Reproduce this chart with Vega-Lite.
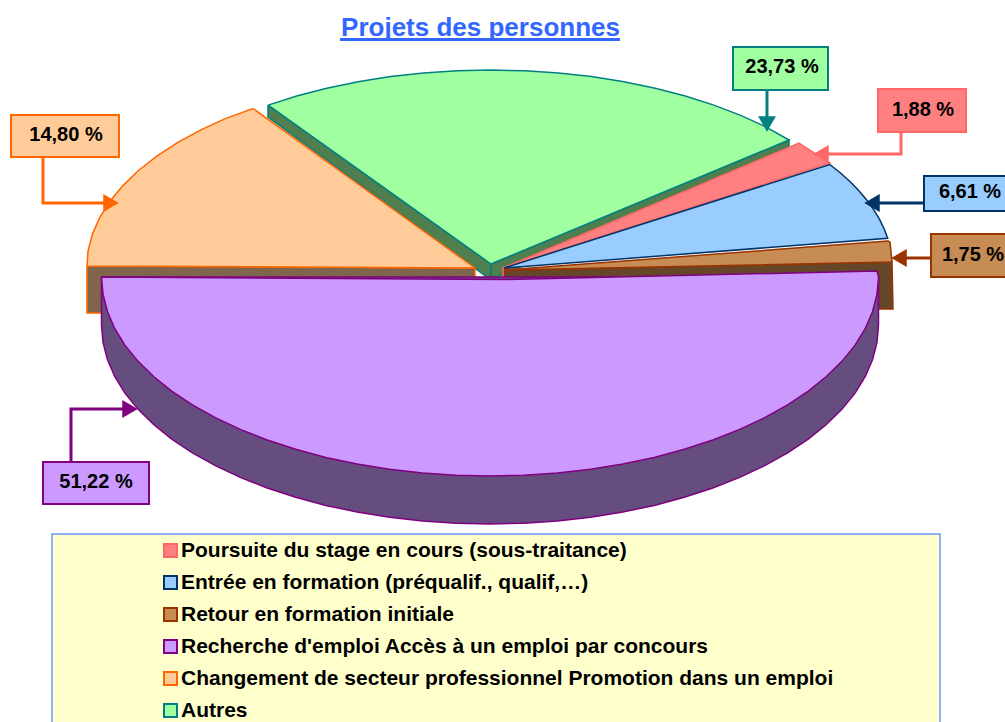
{"$schema":"https://vega.github.io/schema/vega-lite/v6.json","width":1005,"height":722,"padding":0,"autosize":{"type":"none"},"background":"#FFFFFF","config":{"view":{"stroke":null},"font":"Liberation Sans"},"title":{"text":"Projets des personnes","font":"Liberation Sans","fontSize":26,"fontWeight":"bold","color":"#3366FF","anchor":"middle","frame":"group","orient":"top","offset":-41,"dx":-22},"datasets":{"cadre":[{"x0":52,"x1":940,"y0":534,"y1":730}],"soulignement":[{"x0":340,"x1":620,"y":39.5}],"cotes":[
{"partie":"Autres","poly":"a","ordre":1,"x":268,"y":105},{"partie":"Autres","poly":"a","ordre":2,"x":268,"y":117},{"partie":"Autres","poly":"a","ordre":3,"x":491,"y":280},{"partie":"Autres","poly":"a","ordre":4,"x":491,"y":264},{"partie":"Autres","poly":"a","ordre":5,"x":268,"y":105},
{"partie":"Autres","poly":"b","ordre":1,"x":491,"y":264},{"partie":"Autres","poly":"b","ordre":2,"x":491,"y":280},{"partie":"Autres","poly":"b","ordre":3,"x":789,"y":147},{"partie":"Autres","poly":"b","ordre":4,"x":789,"y":140},{"partie":"Autres","poly":"b","ordre":5,"x":491,"y":264},
{"partie":"Changement","poly":"c","ordre":1,"x":87,"y":266},{"partie":"Changement","poly":"c","ordre":2,"x":87,"y":313},{"partie":"Changement","poly":"c","ordre":3,"x":475,"y":313},{"partie":"Changement","poly":"c","ordre":4,"x":475,"y":268},{"partie":"Changement","poly":"c","ordre":5,"x":87,"y":266},
{"partie":"Poursuite","poly":"d","ordre":1,"x":503,"y":268},{"partie":"Poursuite","poly":"d","ordre":2,"x":503,"y":280},{"partie":"Poursuite","poly":"d","ordre":3,"x":510,"y":280},{"partie":"Poursuite","poly":"d","ordre":4,"x":510,"y":265},{"partie":"Poursuite","poly":"d","ordre":5,"x":503,"y":268},
{"partie":"Retour","poly":"e","ordre":1,"x":505,"y":270},{"partie":"Retour","poly":"e","ordre":2,"x":505,"y":309},{"partie":"Retour","poly":"e","ordre":3,"x":893,"y":309},{"partie":"Retour","poly":"e","ordre":4,"x":892,"y":262},{"partie":"Retour","poly":"e","ordre":5,"x":505,"y":270},
{"partie":"Recherche","poly":"f","ordre":1,"x":101.5,"y":277},{"partie":"Recherche","poly":"f","ordre":2,"x":101.5,"y":325},{"partie":"Recherche","poly":"f","ordre":3,"x":103,"y":342.3},{"partie":"Recherche","poly":"f","ordre":4,"x":107.4,"y":359.5},{"partie":"Recherche","poly":"f","ordre":5,"x":114.7,"y":376.5},{"partie":"Recherche","poly":"f","ordre":6,"x":124.9,"y":393.1},{"partie":"Recherche","poly":"f","ordre":7,"x":137.9,"y":409.1},{"partie":"Recherche","poly":"f","ordre":8,"x":153.6,"y":424.5},{"partie":"Recherche","poly":"f","ordre":9,"x":171.7,"y":439.1},{"partie":"Recherche","poly":"f","ordre":10,"x":192.4,"y":452.9},{"partie":"Recherche","poly":"f","ordre":11,"x":215.3,"y":465.7},{"partie":"Recherche","poly":"f","ordre":12,"x":240.3,"y":477.4},{"partie":"Recherche","poly":"f","ordre":13,"x":267.2,"y":488},{"partie":"Recherche","poly":"f","ordre":14,"x":295.7,"y":497.3},{"partie":"Recherche","poly":"f","ordre":15,"x":325.8,"y":505.4},{"partie":"Recherche","poly":"f","ordre":16,"x":357.1,"y":512},{"partie":"Recherche","poly":"f","ordre":17,"x":389.5,"y":517.2},{"partie":"Recherche","poly":"f","ordre":18,"x":422.6,"y":521},{"partie":"Recherche","poly":"f","ordre":19,"x":456.1,"y":523.2},{"partie":"Recherche","poly":"f","ordre":20,"x":490,"y":524},{"partie":"Recherche","poly":"f","ordre":21,"x":523.9,"y":523.2},{"partie":"Recherche","poly":"f","ordre":22,"x":557.4,"y":521},{"partie":"Recherche","poly":"f","ordre":23,"x":590.5,"y":517.2},{"partie":"Recherche","poly":"f","ordre":24,"x":622.9,"y":512},{"partie":"Recherche","poly":"f","ordre":25,"x":654.2,"y":505.4},{"partie":"Recherche","poly":"f","ordre":26,"x":684.3,"y":497.3},{"partie":"Recherche","poly":"f","ordre":27,"x":712.8,"y":488},{"partie":"Recherche","poly":"f","ordre":28,"x":739.7,"y":477.4},{"partie":"Recherche","poly":"f","ordre":29,"x":764.7,"y":465.7},{"partie":"Recherche","poly":"f","ordre":30,"x":787.6,"y":452.9},{"partie":"Recherche","poly":"f","ordre":31,"x":808.3,"y":439.1},{"partie":"Recherche","poly":"f","ordre":32,"x":826.4,"y":424.5},{"partie":"Recherche","poly":"f","ordre":33,"x":842.1,"y":409.1},{"partie":"Recherche","poly":"f","ordre":34,"x":855.1,"y":393.1},{"partie":"Recherche","poly":"f","ordre":35,"x":865.3,"y":376.5},{"partie":"Recherche","poly":"f","ordre":36,"x":872.6,"y":359.5},{"partie":"Recherche","poly":"f","ordre":37,"x":877,"y":342.3},{"partie":"Recherche","poly":"f","ordre":38,"x":878.5,"y":325},{"partie":"Recherche","poly":"f","ordre":39,"x":878.5,"y":277},{"partie":"Recherche","poly":"f","ordre":40,"x":101.5,"y":277}
],"dessus":[
{"partie":"Autres","ordre":1,"x":268.2,"y":105.1},{"partie":"Autres","ordre":2,"x":296.7,"y":96},{"partie":"Autres","ordre":3,"x":326.8,"y":88.2},{"partie":"Autres","ordre":4,"x":358.1,"y":81.7},{"partie":"Autres","ordre":5,"x":390.5,"y":76.6},{"partie":"Autres","ordre":6,"x":423.6,"y":73},{"partie":"Autres","ordre":7,"x":457.1,"y":70.8},{"partie":"Autres","ordre":8,"x":491,"y":70},{"partie":"Autres","ordre":9,"x":524.9,"y":70.8},{"partie":"Autres","ordre":10,"x":558.4,"y":73},{"partie":"Autres","ordre":11,"x":591.5,"y":76.6},{"partie":"Autres","ordre":12,"x":623.9,"y":81.7},{"partie":"Autres","ordre":13,"x":655.2,"y":88.2},{"partie":"Autres","ordre":14,"x":685.3,"y":96},{"partie":"Autres","ordre":15,"x":713.8,"y":105.1},{"partie":"Autres","ordre":16,"x":740.7,"y":115.4},{"partie":"Autres","ordre":17,"x":765.7,"y":126.8},{"partie":"Autres","ordre":18,"x":789,"y":140},{"partie":"Autres","ordre":19,"x":491,"y":264},{"partie":"Autres","ordre":20,"x":268.2,"y":105.1},
{"partie":"Changement","ordre":1,"x":475,"y":268},{"partie":"Changement","ordre":2,"x":87,"y":266},{"partie":"Changement","ordre":3,"x":88,"y":251},{"partie":"Changement","ordre":4,"x":92.4,"y":234.1},{"partie":"Changement","ordre":5,"x":99.7,"y":217.5},{"partie":"Changement","ordre":6,"x":110,"y":201.3},{"partie":"Changement","ordre":7,"x":122.9,"y":185.6},{"partie":"Changement","ordre":8,"x":138.5,"y":170.5},{"partie":"Changement","ordre":9,"x":156.8,"y":156.1},{"partie":"Changement","ordre":10,"x":177.4,"y":142.7},{"partie":"Changement","ordre":11,"x":200.3,"y":130.1},{"partie":"Changement","ordre":12,"x":225.3,"y":118.6},{"partie":"Changement","ordre":13,"x":253,"y":108.5},{"partie":"Changement","ordre":14,"x":475,"y":268},
{"partie":"Poursuite","ordre":1,"x":503,"y":268},{"partie":"Poursuite","ordre":2,"x":799,"y":143},{"partie":"Poursuite","ordre":3,"x":830,"y":163},{"partie":"Poursuite","ordre":4,"x":503,"y":268},
{"partie":"Entree","ordre":1,"x":504,"y":268},{"partie":"Entree","ordre":2,"x":829.8,"y":164.5},{"partie":"Entree","ordre":3,"x":840.5,"y":173},{"partie":"Entree","ordre":4,"x":850.2,"y":181.7},{"partie":"Entree","ordre":5,"x":858.9,"y":190.7},{"partie":"Entree","ordre":6,"x":866.7,"y":199.9},{"partie":"Entree","ordre":7,"x":873.5,"y":209.3},{"partie":"Entree","ordre":8,"x":879.3,"y":218.8},{"partie":"Entree","ordre":9,"x":884,"y":228.5},{"partie":"Entree","ordre":10,"x":887.7,"y":238.3},{"partie":"Entree","ordre":11,"x":504,"y":268},
{"partie":"Retour","ordre":1,"x":505,"y":270},{"partie":"Retour","ordre":2,"x":888,"y":241},{"partie":"Retour","ordre":3,"x":890,"y":242},{"partie":"Retour","ordre":4,"x":892,"y":262},{"partie":"Retour","ordre":5,"x":505,"y":270},
{"partie":"Recherche","ordre":1,"x":101.5,"y":277},{"partie":"Recherche","ordre":2,"x":505,"y":279.5},{"partie":"Recherche","ordre":3,"x":877,"y":271},{"partie":"Recherche","ordre":4,"x":878.5,"y":277},{"partie":"Recherche","ordre":5,"x":877,"y":294.3},{"partie":"Recherche","ordre":6,"x":872.6,"y":311.5},{"partie":"Recherche","ordre":7,"x":865.3,"y":328.5},{"partie":"Recherche","ordre":8,"x":855.1,"y":345.1},{"partie":"Recherche","ordre":9,"x":842.1,"y":361.1},{"partie":"Recherche","ordre":10,"x":826.4,"y":376.5},{"partie":"Recherche","ordre":11,"x":808.3,"y":391.1},{"partie":"Recherche","ordre":12,"x":787.6,"y":404.9},{"partie":"Recherche","ordre":13,"x":764.7,"y":417.7},{"partie":"Recherche","ordre":14,"x":739.7,"y":429.4},{"partie":"Recherche","ordre":15,"x":712.8,"y":440},{"partie":"Recherche","ordre":16,"x":684.3,"y":449.3},{"partie":"Recherche","ordre":17,"x":654.2,"y":457.4},{"partie":"Recherche","ordre":18,"x":622.9,"y":464},{"partie":"Recherche","ordre":19,"x":590.5,"y":469.2},{"partie":"Recherche","ordre":20,"x":557.4,"y":473},{"partie":"Recherche","ordre":21,"x":523.9,"y":475.2},{"partie":"Recherche","ordre":22,"x":490,"y":476},{"partie":"Recherche","ordre":23,"x":456.1,"y":475.2},{"partie":"Recherche","ordre":24,"x":422.6,"y":473},{"partie":"Recherche","ordre":25,"x":389.5,"y":469.2},{"partie":"Recherche","ordre":26,"x":357.1,"y":464},{"partie":"Recherche","ordre":27,"x":325.8,"y":457.4},{"partie":"Recherche","ordre":28,"x":295.7,"y":449.3},{"partie":"Recherche","ordre":29,"x":267.2,"y":440},{"partie":"Recherche","ordre":30,"x":240.3,"y":429.4},{"partie":"Recherche","ordre":31,"x":215.3,"y":417.7},{"partie":"Recherche","ordre":32,"x":192.4,"y":404.9},{"partie":"Recherche","ordre":33,"x":171.7,"y":391.1},{"partie":"Recherche","ordre":34,"x":153.6,"y":376.5},{"partie":"Recherche","ordre":35,"x":137.9,"y":361.1},{"partie":"Recherche","ordre":36,"x":124.9,"y":345.1},{"partie":"Recherche","ordre":37,"x":114.7,"y":328.5},{"partie":"Recherche","ordre":38,"x":107.4,"y":311.5},{"partie":"Recherche","ordre":39,"x":103,"y":294.3},{"partie":"Recherche","ordre":40,"x":101.5,"y":277}
],"liens":[
{"partie":"Autres","ordre":1,"x":767,"y":90},{"partie":"Autres","ordre":2,"x":767,"y":118},
{"partie":"Poursuite","ordre":1,"x":901,"y":132},{"partie":"Poursuite","ordre":2,"x":901,"y":154},{"partie":"Poursuite","ordre":3,"x":828,"y":154},
{"partie":"Entree","ordre":1,"x":924,"y":203},{"partie":"Entree","ordre":2,"x":878,"y":203},
{"partie":"Retour","ordre":1,"x":931,"y":258},{"partie":"Retour","ordre":2,"x":905,"y":258},
{"partie":"Recherche","ordre":1,"x":71,"y":462},{"partie":"Recherche","ordre":2,"x":71,"y":409},{"partie":"Recherche","ordre":3,"x":124,"y":409},
{"partie":"Changement","ordre":1,"x":43,"y":157},{"partie":"Changement","ordre":2,"x":43,"y":203},{"partie":"Changement","ordre":3,"x":105,"y":203}
],"fleches":[
{"partie":"Autres","sens":"bas","x":767,"y":124},{"partie":"Poursuite","sens":"gauche","x":821,"y":154},{"partie":"Entree","sens":"gauche","x":872,"y":203},{"partie":"Retour","sens":"gauche","x":899,"y":258},{"partie":"Recherche","sens":"droite","x":130,"y":409},{"partie":"Changement","sens":"droite","x":111,"y":203}
],"etiquettes":[
{"partie":"Poursuite","libelle":"1,88 %","x0":878,"x1":966,"y0":89,"y1":132,"tx":923,"ty":110},
{"partie":"Entree","libelle":"6,61 %","x0":924,"x1":1012,"y0":176,"y1":211,"tx":970,"ty":192},
{"partie":"Retour","libelle":"1,75 %","x0":931,"x1":1012,"y0":234,"y1":277,"tx":973,"ty":255},
{"partie":"Recherche","libelle":"51,22 %","x0":43,"x1":149,"y0":462,"y1":504,"tx":96,"ty":482},
{"partie":"Changement","libelle":"14,80 %","x0":11,"x1":119,"y0":115,"y1":157,"tx":66,"ty":135},
{"partie":"Autres","libelle":"23,73 %","x0":733,"x1":828,"y0":47,"y1":90,"tx":782,"ty":67}
]},"resolve":{"scale":{"fill":"independent","stroke":"independent"}},"layer":[
{"data":{"name":"cadre"},"mark":{"type":"rect","fill":"#FFFFCC","stroke":"#6699FF","strokeWidth":1.5},"encoding":{"x":{"field":"x0","type":"quantitative","scale":{"domain":[0,1005],"nice":false,"zero":false},"axis":null},"x2":{"field":"x1"},"y":{"field":"y0","type":"quantitative","scale":{"domain":[722,0],"nice":false,"zero":false},"axis":null},"y2":{"field":"y1"}}},
{"data":{"name":"cotes"},"mark":{"type":"line","strokeWidth":1.5,"clip":false},"encoding":{"x":{"field":"x","type":"quantitative","axis":null},"y":{"field":"y","type":"quantitative","axis":null},"detail":{"field":"poly"},"order":{"field":"ordre"},"fill":{"field":"partie","type":"nominal","legend":null,"scale":{"domain":["Poursuite","Retour","Recherche","Changement","Autres"],"range":["#7F4040","#664628","#654D7F","#7F654C","#4F7F4F"]}},"stroke":{"field":"partie","type":"nominal","legend":null,"scale":{"domain":["Poursuite","Retour","Recherche","Changement","Autres"],"range":["#FF6666","#993300","#800080","#FF6600","#008080"]}}}},
{"data":{"name":"dessus"},"mark":{"type":"line","strokeWidth":1.5},"encoding":{"x":{"field":"x","type":"quantitative","axis":null},"y":{"field":"y","type":"quantitative","axis":null},"order":{"field":"ordre"},"fill":{"field":"partie","type":"nominal","legend":null,"scale":{"domain":["Poursuite","Entree","Retour","Recherche","Changement","Autres"],"range":["#FF8080","#99CCFF","#C68C53","#CC99FF","#FFCC99","#A0FFA0"]}},"stroke":{"field":"partie","type":"nominal","legend":null,"scale":{"domain":["Poursuite","Entree","Retour","Recherche","Changement","Autres"],"range":["#FF6666","#003366","#993300","#800080","#FF6600","#008080"]}}}},
{"data":{"name":"liens"},"mark":{"type":"line","strokeWidth":3,"strokeJoin":"miter"},"encoding":{"x":{"field":"x","type":"quantitative","axis":null},"y":{"field":"y","type":"quantitative","axis":null},"order":{"field":"ordre"},"stroke":{"field":"partie","type":"nominal","legend":null,"scale":{"domain":["Poursuite","Entree","Retour","Recherche","Changement","Autres"],"range":["#FF6666","#003366","#993300","#800080","#FF6600","#008080"]}}}},
{"data":{"name":"fleches"},"mark":{"type":"point","filled":true,"size":320,"opacity":1},"encoding":{"x":{"field":"x","type":"quantitative","axis":null},"y":{"field":"y","type":"quantitative","axis":null},"shape":{"field":"sens","type":"nominal","legend":null,"scale":{"domain":["droite","gauche","bas"],"range":["triangle-right","triangle-left","triangle-down"]}},"fill":{"field":"partie","type":"nominal","legend":null,"scale":{"domain":["Poursuite","Entree","Retour","Recherche","Changement","Autres"],"range":["#FF6666","#003366","#993300","#800080","#FF6600","#008080"]}}}},
{"data":{"name":"etiquettes"},"mark":{"type":"rect","strokeWidth":2},"encoding":{"x":{"field":"x0","type":"quantitative","axis":null},"x2":{"field":"x1"},"y":{"field":"y0","type":"quantitative","axis":null},"y2":{"field":"y1"},"fill":{"field":"partie","type":"nominal","scale":{"domain":["Poursuite","Entree","Retour","Recherche","Changement","Autres"],"range":["#FF8080","#99CCFF","#C68C53","#CC99FF","#FFCC99","#A0FFA0"]},"legend":{"orient":"none","legendX":160,"legendY":540,"title":null,"padding":0,"symbolType":"square","symbolSize":169,"symbolStrokeWidth":2,"labelFont":"Liberation Sans","labelFontSize":21,"labelFontWeight":"bold","labelColor":"#000000","labelLimit":800,"labelOffset":0,"rowPadding":10,"labelExpr":"{'Poursuite':'Poursuite du stage en cours (sous-traitance)','Entree':'Entrée en formation (préqualif., qualif,…)','Retour':'Retour en formation initiale','Recherche':'Recherche d\\'emploi Accès à un emploi par concours','Changement':'Changement de secteur professionnel Promotion dans un emploi','Autres':'Autres'}[datum.label]"}},"stroke":{"field":"partie","type":"nominal","scale":{"domain":["Poursuite","Entree","Retour","Recherche","Changement","Autres"],"range":["#FF6666","#003366","#993300","#800080","#FF6600","#008080"]},"legend":{"orient":"none","legendX":160,"legendY":540,"title":null,"padding":0,"symbolType":"square","symbolSize":169,"symbolStrokeWidth":2,"labelFont":"Liberation Sans","labelFontSize":21,"labelFontWeight":"bold","labelColor":"#000000","labelLimit":800,"labelOffset":0,"rowPadding":10,"labelExpr":"{'Poursuite':'Poursuite du stage en cours (sous-traitance)','Entree':'Entrée en formation (préqualif., qualif,…)','Retour':'Retour en formation initiale','Recherche':'Recherche d\\'emploi Accès à un emploi par concours','Changement':'Changement de secteur professionnel Promotion dans un emploi','Autres':'Autres'}[datum.label]"}}}},
{"data":{"name":"etiquettes"},"mark":{"type":"text","font":"Liberation Sans","fontSize":20,"fontWeight":"bold","color":"#000000","align":"center","baseline":"middle"},"encoding":{"x":{"field":"tx","type":"quantitative","axis":null},"y":{"field":"ty","type":"quantitative","axis":null},"text":{"field":"libelle"}}},
{"data":{"name":"soulignement"},"mark":{"type":"rule","stroke":"#3366FF","strokeWidth":3},"encoding":{"x":{"field":"x0","type":"quantitative","axis":null},"x2":{"field":"x1"},"y":{"field":"y","type":"quantitative","axis":null}}}
]}
